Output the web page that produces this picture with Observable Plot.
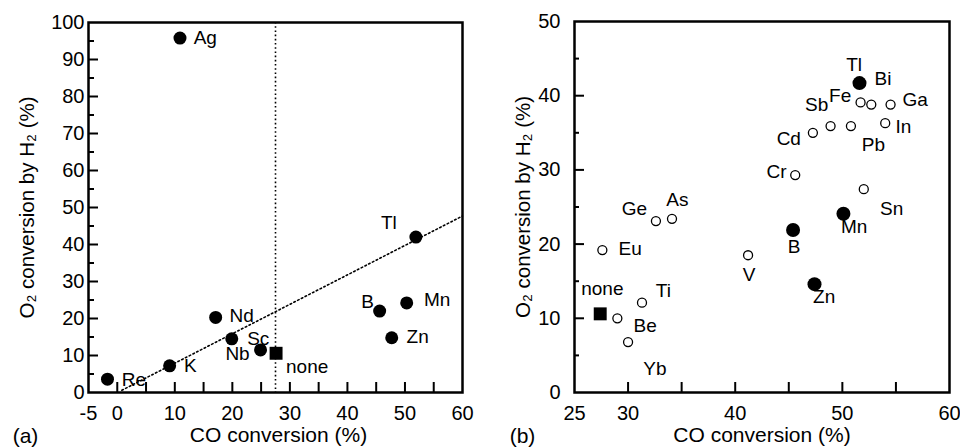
<!DOCTYPE html>
<html><head><meta charset="utf-8">
<script src="https://cdn.jsdelivr.net/npm/d3@7"></script>
<script src="https://cdn.jsdelivr.net/npm/@observablehq/plot@0.6"></script>
<style>
body{margin:0;background:#fff;}
#wrap{display:flex;width:960px;height:447px;overflow:hidden;}
#wrap svg{font-family:"Liberation Sans",Arial,Helvetica,sans-serif;color:#000;background:#fff;overflow:visible;}
</style></head><body><div id="wrap"></div>
<script>
// ---------- Panel (a) ----------
const aElements = ["Re", "K", "Ag", "Nd", "Sc", "Nb", "none", "B", "Mn", "Zn", "Tl"];
const aMarker   = ["filled","filled","filled","filled","filled","filled","square","filled","filled","filled","filled"];
const aCO       = [-1.7, 9.1, 10.9, 17.1, 19.9, 24.9, 27.6, 45.6, 50.3, 47.7, 51.9];
const aO2       = [3.6, 7.2, 95.8, 20.3, 14.5, 11.5, 10.6, 22.0, 24.2, 14.8, 42.0];
const aLabelCO  = [2.9, 12.7, 15.3, 21.6, 24.5, 20.9, 33.0, 43.5, 55.6, 52.2, 47.2];
const aLabelO2  = [3.4, 7.3, 95.9, 20.8, 14.5, 10.5, 6.8, 24.4, 24.9, 14.9, 45.8];
const aDividerCO = [27.5];
const aFitCO = [0.8, 60];
const aFitO2 = [0.6, 47.7];
const aXTickLabels = [-5, 0, 10, 20, 30, 40, 50, 60];
const aXTicks = [0, 5, 10, 15, 20, 25, 30, 35, 40, 45, 50, 55];
const aYTickLabels = [0, 10, 20, 30, 40, 50, 60, 70, 80, 90, 100];
const aYMajor = [10, 20, 30, 40, 50, 60, 70, 80, 90];
const aYMinor = [5, 15, 25, 35, 45, 55, 65, 75, 85, 95];

// ---------- Panel (b) ----------
const bElements = ["none","Be","Yb","Ti","Eu","Ge","As","V","Cr","B","Zn","Mn","Tl","Cd","Sb","Pb","Fe","Bi","Ga","In","Sn"];
const bMarker   = ["square","open","open","open","open","open","open","open","open","filled","filled","filled","filled","open","open","open","open","open","open","open","open"];
const bCO       = [27.4, 29.0, 30.0, 31.3, 27.6, 32.6, 34.1, 41.2, 45.6, 45.4, 47.4, 50.1, 51.6, 47.25, 48.9, 50.8, 51.7, 52.7, 54.5, 54.0, 52.0];
const bO2       = [10.6, 10.0, 6.8, 12.1, 19.2, 23.1, 23.4, 18.5, 29.3, 21.9, 14.6, 24.1, 41.7, 35.0, 35.9, 35.9, 39.1, 38.8, 38.8, 36.3, 27.4];
const bLabelCO  = [27.6, 31.6, 32.5, 33.3, 30.2, 30.6, 34.6, 41.3, 43.85, 45.5, 48.3, 51.1, 51.1, 45.0, 47.6, 52.9, 49.8, 53.8, 56.8, 55.7, 54.6];
const bLabelO2  = [14.0, 9.0, 3.2, 13.7, 19.4, 24.75, 25.9, 15.8, 29.7, 19.6, 12.9, 22.3, 44.1, 34.2, 38.8, 33.4, 40.0, 42.2, 39.45, 35.8, 24.75];
const bXTickLabels = [25, 30, 40, 50, 60];
const bXTicks = [30, 35, 40, 45, 50, 55];
const bYTickLabels = [0, 10, 20, 30, 40, 50];
const bYMajor = [10, 20, 30, 40];
const bYMinor = [5, 15, 25, 35, 45];

const xTitle = "CO conversion (%)";
const yTitle = "O\u2082 conversion by H\u2082 (%)";

function rows(el, mk, x, y, lx, ly) {
  return el.map((e, i) => ({el: e, marker: mk[i], x: x[i], y: y[i], lx: lx[i], ly: ly[i]}));
}

function panel(o) {
  const W = 480, H = 447;
  const fw = W - o.ml - o.mr, fh = H - o.mt - o.mb;
  const data = o.data;
  const fmt = d => String(d);
  const marks = [
    ...(o.extra || []),
    Plot.tickX(o.xTicks, {x: d => d, insetTop: fh - 10, stroke: "black", strokeWidth: 2}),
    Plot.tickY(o.yMajor, {y: d => d, insetRight: fw - 10, stroke: "black", strokeWidth: 2}),
    Plot.tickY(o.yMinor, {y: d => d, insetRight: fw - o.minorLen, stroke: "black", strokeWidth: 2}),
    Plot.frame({stroke: "black", strokeWidth: 2.5}),
    Plot.axisX(o.xTickLabels, {tickSize: 0, tickPadding: 13, fontSize: 20, fill: "black", tickFormat: fmt}),
    Plot.axisY(o.yTickLabels, {tickSize: 0, tickPadding: o.yPad, fontSize: 20, fill: "black", tickFormat: fmt}),
    Plot.dot(data.filter(d => d.marker === "open"), {x: "x", y: "y", r: 4.5, stroke: "black", strokeWidth: 1.3, fill: "white"}),
    Plot.dot(data.filter(d => d.marker === "filled"), {x: "x", y: "y", r: o.filledR, fill: "black", stroke: null}),
    Plot.dot(data.filter(d => d.marker === "square"), {x: "x", y: "y", r: 7.3, symbol: "square", fill: "black", stroke: null}),
    Plot.text(data, {x: "lx", y: "ly", text: "el", fontSize: 19, fill: "black"}),
    Plot.text([xTitle], {text: d => d, frameAnchor: "bottom", textAnchor: "middle", lineAnchor: "middle", dx: o.xTitleDx, dy: 43, fontSize: 21, fill: "black"}),
    Plot.text([yTitle], {text: d => d, frameAnchor: "left", textAnchor: "middle", lineAnchor: "middle", dx: o.yTitleDx, rotate: -90, fontSize: 20.5, fill: "black"}),
    Plot.text([o.tag], {text: d => d, frameAnchor: "bottom-left", textAnchor: "middle", lineAnchor: "middle", dx: o.tagDx, dy: 44, fontSize: 21, fill: "black"})
  ];
  return Plot.plot({
    width: W, height: H,
    marginLeft: o.ml, marginRight: o.mr, marginTop: o.mt, marginBottom: o.mb,
    x: {domain: o.xDomain},
    y: {domain: o.yDomain},
    style: {fontFamily: '"Liberation Sans", Arial, sans-serif', color: "black", background: "white"},
    marks
  });
}

const aData = rows(aElements, aMarker, aCO, aO2, aLabelCO, aLabelO2);
const bData = rows(bElements, bMarker, bCO, bO2, bLabelCO, bLabelO2);

const dotted = {stroke: "black", strokeWidth: 1.6, strokeDasharray: "1.6,2.6"};

const left = panel({
  data: aData, xDomain: [-5, 60], yDomain: [0, 100],
  ml: 88, mr: 18, mt: 22, mb: 55,
  xTicks: aXTicks, yMajor: aYMajor, yMinor: aYMinor, minorLen: 6,
  xTickLabels: aXTickLabels, yTickLabels: aYTickLabels, yPad: 4,
  filledR: 6.5, xTitleDx: 3, yTitleDx: -61, tag: "(a)", tagDx: -63,
  extra: [
    Plot.ruleX(aDividerCO, {x: d => d, ...dotted}),
    Plot.line(aFitCO.map((c, i) => ({c, o: aFitO2[i]})), {x: "c", y: "o", ...dotted})
  ]
});
const right = panel({
  data: bData, xDomain: [25, 60], yDomain: [0, 50],
  ml: 94, mr: 11, mt: 21, mb: 55,
  xTicks: bXTicks, yMajor: bYMajor, yMinor: bYMinor, minorLen: 5,
  xTickLabels: bXTickLabels, yTickLabels: bYTickLabels, yPad: 14,
  filledR: 7, xTitleDx: 0, yTitleDx: -51, tag: "(b)", tagDx: -52
});
document.getElementById("wrap").append(left, right);
</script>
</body></html>
